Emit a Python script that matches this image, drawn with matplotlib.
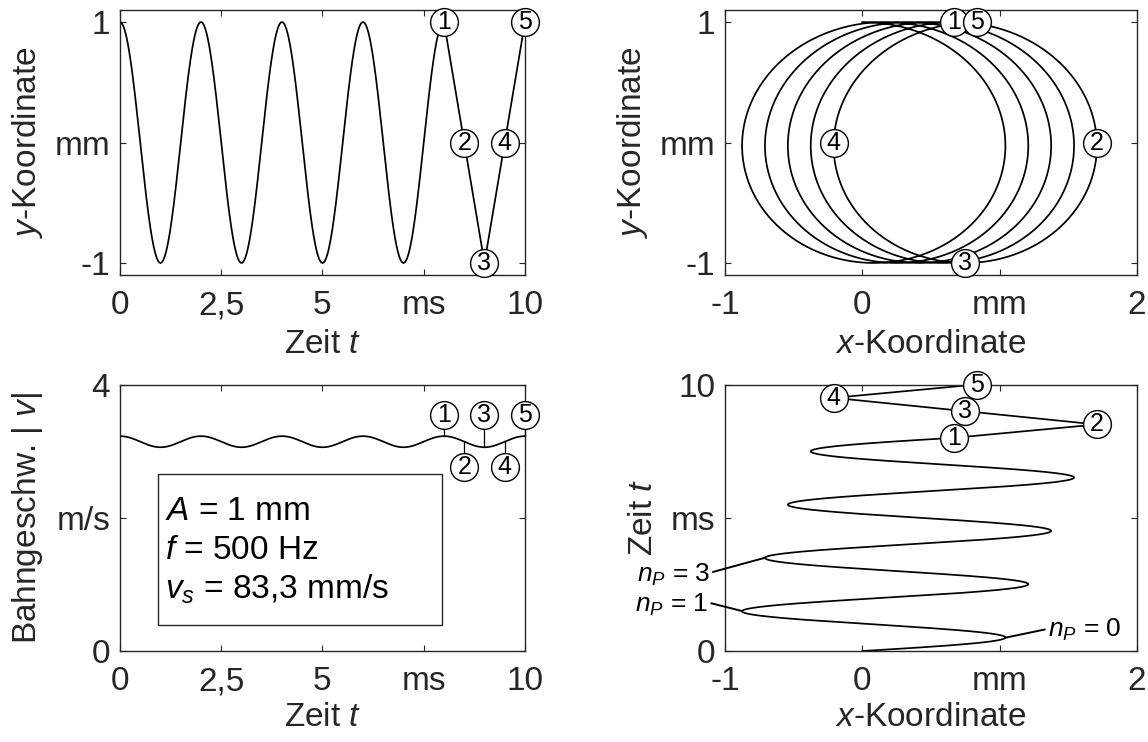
import numpy as np
import matplotlib
matplotlib.use("Agg")
import matplotlib.pyplot as plt
from matplotlib.patches import Rectangle

# ---- parameters shown in the chart ----
A_mm = 1.0            # amplitude A = 1 mm
f_Hz = 500.0          # frequency f = 500 Hz
vs_mm_s = 83.3        # feed speed v_s = 83,3 mm/s
t_end_ms = 10.0
t_smooth_end_ms = 8.0

# marked time points (ms) and their labels
marker_t = [8.0, 8.5, 9.0, 9.5, 10.0]
marker_labels = ["1", "2", "3", "4", "5"]
speed_marker_side = [1, -1, 1, -1, 1]   # +1 above, -1 below the curve

# n_P annotations in the t–x plot (time of the turning point, label)
np_t = [0.5, 1.5, 3.5]
np_labels = ["0", "1", "3"]

# tick labels
t_ticks = [0, 2.5, 5, 7.5, 10]
t_ticklabels = ["0", "2,5", "5", "ms", "10"]
x_ticks = [-1, 0, 1, 2]
x_ticklabels = ["-1", "0", "mm", "2"]
y_ticks = [-1, 0, 1]
y_ticklabels = ["-1", "mm", "1"]
v_ticks = [0, 2, 4]
v_ticklabels = ["0", "m/s", "4"]
tt_ticks = [0, 5, 10]
tt_ticklabels = ["0", "ms", "10"]

# ---- model ----
omega = 2 * np.pi * f_Hz


def pos_x(t_ms):
    ts = np.asarray(t_ms) / 1000.0
    return A_mm * np.sin(omega * ts) + vs_mm_s * ts


def pos_y(t_ms):
    ts = np.asarray(t_ms) / 1000.0
    return A_mm * np.cos(omega * ts)


def speed(t_ms):
    ts = np.asarray(t_ms) / 1000.0
    vx = A_mm * omega * np.cos(omega * ts) + vs_mm_s
    vy = -A_mm * omega * np.sin(omega * ts)
    return np.sqrt(vx ** 2 + vy ** 2) / 1000.0  # m/s


t_full = np.linspace(0, t_end_ms, 2001)
t_part = np.concatenate([np.linspace(0, t_smooth_end_ms, 1601), marker_t[1:]])

# ---- style ----
plt.rcParams["font.family"] = ["Liberation Sans", "DejaVu Sans"]
plt.rcParams["mathtext.fontset"] = "custom"
plt.rcParams["mathtext.rm"] = "Liberation Sans"
plt.rcParams["mathtext.it"] = "Liberation Sans:italic"
plt.rcParams["mathtext.bf"] = "Liberation Sans:bold"

FS = 24
GRAY = "#262626"
LW = 1.25

fig = plt.figure(figsize=(11.48, 7.42), dpi=100)
L1, W1 = 0.1045, 0.3528
L2, W2 = 0.6315, 0.3589
B1, H1 = 0.6294, 0.3571
B2, H2 = 0.1226, 0.3592
ax1 = fig.add_axes([L1, B1, W1, H1])
ax2 = fig.add_axes([L2, B1, W2, H1])
ax3 = fig.add_axes([L1, B2, W1, H2])
ax4 = fig.add_axes([L2, B2, W2, H2])


def style(ax):
    for s in ax.spines.values():
        s.set_color(GRAY)
        s.set_linewidth(1.0)
    ax.tick_params(direction="in", top=True, right=True, length=4, width=0.8,
                   color=GRAY, labelsize=FS, labelcolor=GRAY)
    ax.tick_params(axis="x", pad=11)
    ax.tick_params(axis="y", pad=7)


def circ(ax, x, y, label, z=5):
    ax.plot([x], [y], marker="o", ms=20, mfc="white", mec="black", mew=1.0,
            zorder=z, clip_on=False, linestyle="none")
    ax.text(x, y, label, ha="center", va="center", fontsize=18, color="black",
            zorder=z + 0.5, clip_on=False)


for ax in (ax1, ax2, ax3, ax4):
    style(ax)

# ---- top-left: y(t) ----
ax1.plot(t_part, pos_y(t_part), color="black", lw=LW)
ax1.set_xlim(0, 10)
ax1.set_ylim(-1.1, 1.1)
ax1.set_xticks(t_ticks, t_ticklabels)
ax1.set_yticks(y_ticks, y_ticklabels)
ax1.set_xlabel(r"Zeit $t$", fontsize=FS, color=GRAY)
ax1.set_ylabel(r"$y$-Koordinate", fontsize=FS, color=GRAY)
for tm, lab in zip(marker_t, marker_labels):
    circ(ax1, tm, float(pos_y(tm)), lab)

# ---- top-right: y(x) ----
ax2.plot(pos_x(t_full), pos_y(t_full), color="black", lw=LW)
ax2.set_xlim(-1, 2)
ax2.set_ylim(-1.1, 1.1)
ax2.set_xticks(x_ticks, x_ticklabels)
ax2.set_yticks(y_ticks, y_ticklabels)
ax2.set_xlabel(r"$x$-Koordinate", fontsize=FS, color=GRAY)
ax2.set_ylabel(r"$y$-Koordinate", fontsize=FS, color=GRAY)
for tm, lab in zip(marker_t, marker_labels):
    circ(ax2, float(pos_x(tm)), float(pos_y(tm)), lab)

# ---- bottom-left: speed ----
ax3.plot(t_full, speed(t_full), color="black", lw=LW)
ax3.set_xlim(0, 10)
ax3.set_ylim(0, 4)
ax3.set_xticks(t_ticks, t_ticklabels)
ax3.set_yticks(v_ticks, v_ticklabels)
ax3.set_xlabel(r"Zeit $t$", fontsize=FS, color=GRAY)
ax3.set_ylabel(r"Bahngeschw. | $v$|", fontsize=FS, color=GRAY)
for tm, lab, side in zip(marker_t, marker_labels, speed_marker_side):
    v0 = float(speed(tm))
    yc = 3.54 if side > 0 else 2.76
    ax3.plot([tm, tm], [v0, yc], color="black", lw=0.9, zorder=4, clip_on=False)
    circ(ax3, tm, yc, lab)
ax3.add_patch(Rectangle((0.094, 0.098), 0.701, 0.568, transform=ax3.transAxes,
                        fill=False, ec=GRAY, lw=1.0))
ax3.text(0.111, 0.525, r"$A$ = 1 mm", transform=ax3.transAxes, fontsize=FS,
         color="black", va="center")
ax3.text(0.111, 0.378, r"$f$ = 500 Hz", transform=ax3.transAxes, fontsize=FS,
         color="black", va="center")
ax3.text(0.111, 0.232, r"$v_s$ = 83,3 mm/s", transform=ax3.transAxes, fontsize=FS,
         color="black", va="center")

# ---- bottom-right: t(x) ----
ax4.plot(pos_x(t_part), t_part, color="black", lw=LW)
ax4.set_xlim(-1, 2)
ax4.set_ylim(0, 10)
ax4.set_xticks(x_ticks, x_ticklabels)
ax4.set_yticks(tt_ticks, tt_ticklabels)
ax4.set_xlabel(r"$x$-Koordinate", fontsize=FS, color=GRAY)
ax4.set_ylabel(r"Zeit $t$", fontsize=FS, color=GRAY)
for tm, lab in zip(marker_t, marker_labels):
    circ(ax4, float(pos_x(tm)), tm, lab)

# n_P annotations (text positions in axes coords)
np_text_pos = [(0.783, 0.078, "left", (0.0, 0.55)),
               (-0.040, 0.172, "right", (1.0, 0.6)),
               (-0.036, 0.284, "right", (1.0, 0.6))]
for tm, lab, (tx, ty, ha, rp) in zip(np_t, np_labels, np_text_pos):
    xp = float(pos_x(tm))
    ax4.annotate(r"$n_P$ = " + lab, xy=(xp, tm), xycoords="data",
                 xytext=(tx, ty), textcoords="axes fraction", ha=ha, va="center",
                 fontsize=19, color="black",
                 arrowprops=dict(arrowstyle="-", color="black", lw=1.4,
                                 shrinkA=0, shrinkB=0, relpos=rp),
                 annotation_clip=False)

ax1.xaxis.set_label_coords(0.5, -0.205)
ax2.xaxis.set_label_coords(0.5, -0.205)
ax3.xaxis.set_label_coords(0.5, -0.19)
ax4.xaxis.set_label_coords(0.5, -0.19)
ax1.yaxis.set_label_coords(-0.185, 0.5)
ax2.yaxis.set_label_coords(-0.182, 0.5)
ax3.yaxis.set_label_coords(-0.185, 0.5)
ax4.yaxis.set_label_coords(-0.160, 0.5)

fig.savefig("out.png", dpi=100)
